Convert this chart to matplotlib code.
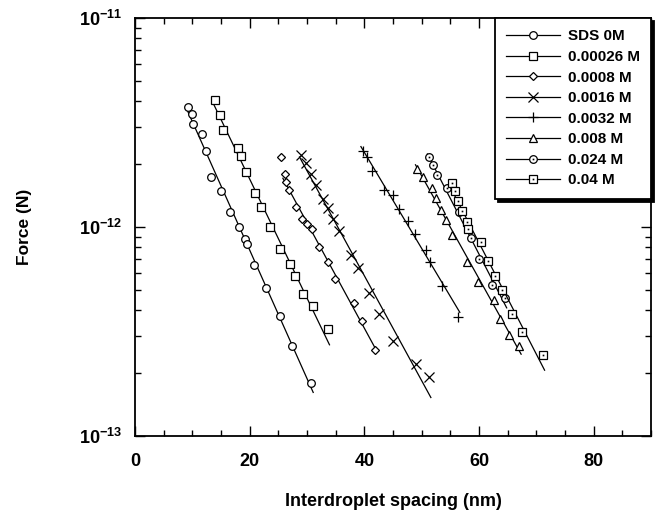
import numpy as np
import matplotlib
matplotlib.use('Agg')
import matplotlib.pyplot as plt
from matplotlib.legend_handler import HandlerTuple
from matplotlib.ticker import MultipleLocator, LogLocator, NullFormatter, FixedLocator, FixedFormatter

plt.rcParams['font.family'] = ['Liberation Sans', 'DejaVu Sans']
plt.rcParams['font.weight'] = 'bold'
plt.rcParams['mathtext.fontset'] = 'custom'
plt.rcParams['mathtext.rm'] = 'Liberation Sans:bold'
plt.rcParams['mathtext.bf'] = 'Liberation Sans:bold'

# interdroplet spacing (nm) and force (units of 1e-12 N)
labels = ['SDS 0M', '0.00026 M', '0.0008 M', '0.0016 M',
          '0.0032 M', '0.008 M', '0.024 M', '0.04 M']

x_0 = [9.27, 9.86, 10.14, 11.6, 12.47, 13.34, 14.96, 16.64, 18.14, 19.18, 19.53,
       20.75, 22.9, 25.34, 27.43, 30.78]
f_0 = [3.76, 3.46, 3.11, 2.78, 2.31, 1.74, 1.49, 1.18, 1.00, 0.88, 0.83,
       0.66, 0.51, 0.375, 0.27, 0.179]

x_1 = [13.91, 14.78, 15.36, 18.03, 18.56, 19.43, 20.87, 22.03, 23.48, 25.22,
       26.96, 27.83, 29.27, 31.01, 33.62]
f_1 = [4.05, 3.44, 2.91, 2.38, 2.19, 1.84, 1.46, 1.25, 1.00, 0.782,
       0.665, 0.583, 0.476, 0.419, 0.324]

x_2 = [25.51, 26.09, 26.38, 26.83, 28.12, 29.17, 29.97, 30.9, 32.05, 33.74,
       34.9, 38.26, 39.53, 41.79]
f_2 = [2.17, 1.79, 1.65, 1.50, 1.24, 1.09, 1.03, 0.98, 0.80, 0.68,
       0.562, 0.434, 0.356, 0.258]

x_3 = [28.99, 29.74, 30.73, 31.6, 32.75, 33.62, 34.61, 35.53, 37.69, 38.96,
       40.75, 42.49, 45.04, 48.99, 51.3]
f_3 = [2.21, 2.02, 1.79, 1.59, 1.36, 1.23, 1.09, 0.96, 0.737, 0.636,
       0.485, 0.384, 0.285, 0.221, 0.192]

x_4 = [39.7, 40.4, 41.27, 43.36, 45.04, 45.97, 47.65, 48.87, 50.83, 51.48,
       53.51, 56.35]
f_4 = [2.32, 2.17, 1.86, 1.51, 1.43, 1.22, 1.07, 0.926, 0.776, 0.682,
       0.524, 0.372]

x_5 = [49.22, 50.14, 51.77, 52.47, 53.34, 54.21, 55.25, 57.97, 59.86, 62.61,
       63.74, 65.22, 67.04]
f_5 = [1.90, 1.73, 1.53, 1.37, 1.21, 1.08, 0.915, 0.682, 0.547, 0.447,
       0.362, 0.304, 0.269]

x_6 = [51.3, 51.95, 52.75, 54.35, 56.43, 58.56, 60.0, 62.31, 64.52]
f_6 = [2.17, 1.97, 1.77, 1.54, 1.18, 0.883, 0.701, 0.526, 0.456]

x_7 = [55.36, 55.74, 56.38, 56.99, 57.83, 58.14, 60.3, 61.62, 62.75, 64.05,
       65.79, 67.43, 71.13]
f_7 = [1.62, 1.48, 1.33, 1.19, 1.06, 0.975, 0.848, 0.685, 0.583, 0.5,
       0.384, 0.315, 0.244]

xs = [x_0, x_1, x_2, x_3, x_4, x_5, x_6, x_7]
fs = [f_0, f_1, f_2, f_3, f_4, f_5, f_6, f_7]
markers = ['o', 's', 'D', 'x', '+', '^', 'o', 's']
msizes = [5.5, 6, 4.2, 7, 7, 6, 5.5, 6]
dotted = [False, False, False, False, False, False, True, True]
fit_start = [0, 0, 1, 0, 0, 0, 0, 0]  # first diamond sits off the fit

fig = plt.figure(figsize=(6.63, 5.14), dpi=100)
ax = fig.add_axes([0.2036, 0.1518, 0.7784, 0.8132])

handles = []
for x, f, m, ms, dot, s in zip(xs, fs, markers, msizes, dotted, fit_start):
    x = np.array(x)
    y = np.array(f) * 1e-12
    # straight line fit in semilog
    p = np.polyfit(x[s:], np.log10(y[s:]), 1)
    xx = np.linspace(x[s:].min() - 0.3, x[s:].max() + 0.3, 50)
    ln, = ax.plot(xx, 10 ** np.polyval(p, xx), color='black', lw=0.9)
    mk, = ax.plot(x, y, ls='none', marker=m, ms=ms, mfc='white', mec='black', mew=0.9)
    h = [ln, mk]
    if dot:
        d, = ax.plot(x, y, ls='none', marker='s', ms=1.2, mfc='black', mec='black', mew=0)
        h.append(d)
    handles.append(tuple(h))

ax.set_yscale('log')
ax.set_xlim(0, 90)
ax.set_ylim(1e-13, 1e-11)

ax.xaxis.set_major_locator(MultipleLocator(20))
ax.xaxis.set_minor_locator(MultipleLocator(5))
ax.yaxis.set_major_locator(FixedLocator([1e-13, 1e-12, 1e-11]))
ax.yaxis.set_major_formatter(FixedFormatter([r'$\mathbf{10^{-13}}$', r'$\mathbf{10^{-12}}$',
                                             r'$\mathbf{10^{-11}}$']))
ax.yaxis.set_minor_locator(LogLocator(base=10, subs=np.arange(2, 10)))
ax.yaxis.set_minor_formatter(NullFormatter())

ax.tick_params(which='both', direction='in', top=True, right=True, width=1)
ax.tick_params(which='major', length=7)
ax.tick_params(which='minor', length=4)
ax.tick_params(axis='x', labelsize=13, pad=12)
ax.tick_params(axis='y', labelsize=13, pad=9)
for sp in ax.spines.values():
    sp.set_linewidth(1.3)

ax.set_xlabel('Interdroplet spacing (nm)', fontsize=13, fontweight='bold', labelpad=17)
ax.set_ylabel('Force (N)', fontsize=12.5, fontweight='bold', labelpad=34)

leg = ax.legend(handles, labels, loc='upper right', borderaxespad=0, numpoints=1,
                handler_map={tuple: HandlerTuple(ndivide=1, pad=0)},
                fontsize=11, handlelength=3.5, handletextpad=0.5,
                labelspacing=0.43, borderpad=0.75, fancybox=False, framealpha=1,
                edgecolor='black', shadow={'color': 'black', 'alpha': 1})
leg.get_frame().set_linewidth(1.3)
for t in leg.get_texts():
    t.set_fontweight('bold')

fig.savefig('out.png', dpi=100)
